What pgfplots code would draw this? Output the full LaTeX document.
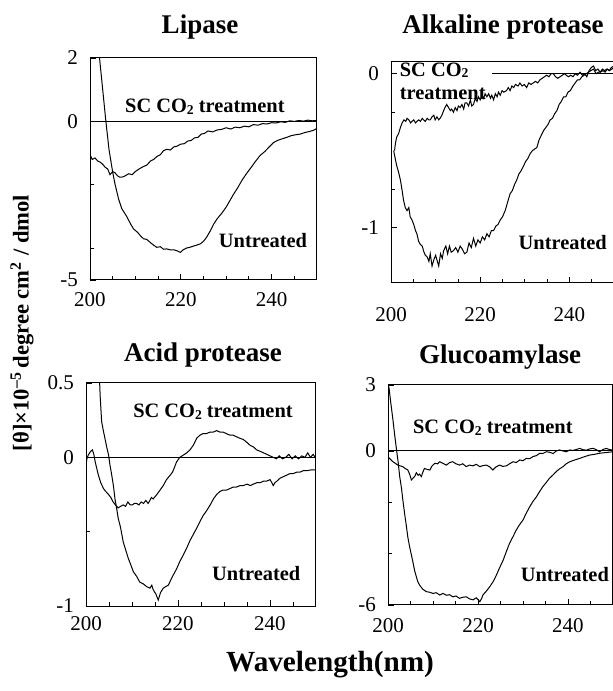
\documentclass[border=0pt]{standalone}
\usepackage{pgfplots}
\pgfplotsset{compat=1.18}
\usepackage{fontspec}
\setmainfont{Liberation Serif}
\newcommand\cotwo{CO\raisebox{-0.2ex}{\fontsize{6.8}{7}\selectfont 2}}
\tikzset{lbl/.style={font=\bfseries\fontsize{10.2}{11.5}\selectfont, inner sep=0pt}}
\pgfplotsset{
  cdpanel/.style={
    scale only axis, anchor=south west,
    xmin=200, xmax=250,
    xtick={200,220,240}, xticklabels={200,220,240},
    minor xtick={205,210,215,225,230,235,245},
    tick align=inside, tick pos=left,
    axis line style={line width=0.5pt},
    tick style={black, line width=0.4pt},
    major tick length=3pt, minor tick length=2pt,
    ticklabel style={font=\fontsize{10.5}{12}\selectfont},
    /pgf/number format/assume math mode=true,
    yticklabel style={xshift=-2.5pt},
    xticklabel style={yshift=-2.5pt},
    clip=true,
  },
  cdline/.style={black, line width=0.5pt, no markers},
}
\begin{document}
\begin{tikzpicture}
% ---------------- Lipase ----------------
\begin{axis}[cdpanel, at={(45pt,205.5pt)}, width=113.5pt, height=111pt,
  ymin=-5, ymax=2, ytick={-5,0,2}, yticklabels={-5,0,2}, minor ytick={-4,-2}]
\addplot[cdline] coordinates {(200,0) (250,0)};
\addplot[cdline] coordinates {(201.8,2.4) (202.1,2.0) (202.8,1.0) (203.5,0.0) (204.2,-0.9) (205,-1.6) (205.5,-1.97) (206.3,-2.45) (207,-2.75) (208.1,-3.0) (209,-3.25) (209.6,-3.39) (210.5,-3.5) (211.2,-3.62) (211.8,-3.7) (212.5,-3.72) (213.3,-3.82) (214,-3.9) (214.7,-3.97) (215.5,-3.95) (216.2,-4.03) (216.9,-4.02) (217.7,-4.05) (218.5,-4.05) (219.2,-4.08) (219.9,-4.13) (220.5,-4.05) (221.3,-3.99) (222,-3.97) (222.8,-3.93) (223.5,-3.9) (224.3,-3.86) (225,-3.78) (225.7,-3.65) (226.5,-3.45) (227.2,-3.25) (228,-3.07) (229,-2.9) (230,-2.7) (231,-2.45) (231.6,-2.3) (232.5,-2.1) (233.5,-1.85) (234.6,-1.62) (235.5,-1.45) (236.5,-1.25) (237.5,-1.07) (238.5,-0.95) (239.5,-0.8) (240.4,-0.67) (241.3,-0.6) (242.3,-0.55) (243.4,-0.5) (244.3,-0.45) (245.3,-0.42) (246.3,-0.4) (247.3,-0.35) (248.3,-0.32) (249.2,-0.28) (250,-0.22)};
\addplot[cdline] coordinates {(200,-1.05) (200.5,-1.2) (201.1,-1.15) (201.7,-1.25) (202.2,-1.28) (202.8,-1.35) (203.3,-1.44) (203.9,-1.5) (204.4,-1.68) (205,-1.58) (205.5,-1.62) (206.1,-1.72) (206.6,-1.76) (207.2,-1.75) (207.7,-1.72) (208.5,-1.65) (209.3,-1.68) (210,-1.58) (210.8,-1.5) (211.8,-1.42) (212.5,-1.38) (213.3,-1.25) (214,-1.2) (214.8,-1.1) (215.5,-1.05) (216.2,-0.92) (216.9,-0.88) (217.7,-0.9) (218.5,-0.8) (219.2,-0.78) (219.9,-0.72) (220.8,-0.7) (221.5,-0.62) (222.3,-0.6) (223,-0.52) (223.8,-0.5) (224.5,-0.4) (225.2,-0.38) (226,-0.3) (227,-0.33) (228,-0.27) (229,-0.25) (230,-0.2) (231,-0.24) (232,-0.18) (233,-0.2) (234,-0.15) (235,-0.17) (236,-0.1) (237,-0.12) (238,-0.07) (239,-0.08) (240,-0.04) (241,-0.05) (242,-0.01) (243,-0.03) (244,0.02) (245,0) (246,0.03) (247,0.01) (248,0.04) (249,0.02) (250,0.03)};
\node[lbl] at (axis cs:225.3,0.455) {SC \cotwo\ treatment};
\node[lbl] at (axis cs:238.1,-3.74) {Untreated};
\end{axis}
% ---------------- Alkaline protease ----------------
\begin{axis}[cdpanel, at={(195.5pt,204pt)}, width=111.5pt, height=110.5pt,
  ymin=-1.36, ymax=0.076, ytick={-1,0}, yticklabels={-1,0}, minor ytick={-0.75,-0.25},
  xticklabel style={yshift=-6pt}]
\addplot[cdline] coordinates {(222.7,0) (250,0)};
\addplot[cdline] coordinates {(200.6,-0.5) (201,-0.56) (201.3,-0.6) (201.7,-0.64) (202.1,-0.69) (202.5,-0.76) (202.8,-0.82) (203.2,-0.87) (203.6,-0.89) (204,-0.87) (204.3,-0.93) (204.7,-0.95) (205.1,-0.98) (205.5,-1.02) (205.8,-1.04) (206.2,-1.09) (206.6,-1.11) (207,-1.12) (207.4,-1.16) (207.7,-1.18) (208.1,-1.19) (208.5,-1.22) (208.8,-1.17) (209.2,-1.25) (209.6,-1.21) (210,-1.18) (210.4,-1.22) (210.7,-1.25) (211.1,-1.17) (211.5,-1.2) (211.8,-1.15) (212.3,-1.12) (212.7,-1.17) (213.1,-1.12) (213.5,-1.16) (214,-1.15) (214.5,-1.13) (215,-1.16) (215.5,-1.12) (216,-1.14) (216.5,-1.17) (217,-1.16) (217.5,-1.1) (218,-1.13) (218.5,-1.07) (219,-1.12) (219.5,-1.08) (220,-1.1) (220.5,-1.06) (221,-1.08) (221.5,-1.04) (222,-1.06) (222.5,-1.02) (223,-1.02) (223.5,-0.99) (224,-0.98) (224.5,-0.95) (225,-0.93) (225.6,-0.89) (226.2,-0.83) (226.7,-0.78) (227.2,-0.76) (227.7,-0.72) (228.2,-0.69) (228.7,-0.65) (229.2,-0.63) (229.7,-0.6) (230.2,-0.57) (230.7,-0.55) (231.2,-0.52) (231.7,-0.5) (232.2,-0.49) (232.7,-0.48) (233.2,-0.43) (233.7,-0.4) (234.2,-0.37) (234.7,-0.35) (235.2,-0.33) (235.7,-0.3) (236.2,-0.29) (236.7,-0.26) (237.2,-0.24) (237.7,-0.2) (238.2,-0.18) (238.7,-0.15) (239.2,-0.15) (239.7,-0.12) (240.2,-0.11) (240.8,-0.08) (241.3,-0.06) (241.8,-0.04) (242.3,-0.04) (242.8,-0.02) (243.3,-0.01) (243.8,0) (244.3,0.01) (244.8,0.02) (245.4,0.03) (246,0.0) (246.5,0.01) (247,0.01) (247.5,0.02) (248,0.01) (248.5,0.03) (249,0.02) (249.5,0.03) (250,0.04)};
\addplot[cdline] coordinates {(200.8,-0.5) (201,-0.45) (201.3,-0.41) (201.7,-0.39) (202.1,-0.35) (202.5,-0.32) (202.9,-0.3) (203.3,-0.31) (203.6,-0.29) (204,-0.3) (204.4,-0.32) (204.7,-0.31) (205.1,-0.3) (205.5,-0.32) (205.8,-0.31) (206.2,-0.3) (206.6,-0.31) (207,-0.29) (207.3,-0.3) (207.7,-0.31) (208.1,-0.29) (208.5,-0.3) (208.8,-0.3) (209.2,-0.28) (209.6,-0.27) (209.9,-0.3) (210.3,-0.28) (210.7,-0.3) (211,-0.29) (211.4,-0.27) (211.8,-0.24) (212.1,-0.22) (212.5,-0.2) (212.9,-0.22) (213.3,-0.24) (213.6,-0.23) (214,-0.25) (214.4,-0.22) (214.8,-0.24) (215.1,-0.21) (215.5,-0.22) (215.9,-0.2) (216.3,-0.23) (216.6,-0.19) (217,-0.19) (217.4,-0.21) (217.8,-0.17) (218.1,-0.21) (218.5,-0.2) (218.9,-0.16) (219.3,-0.18) (219.6,-0.15) (220,-0.17) (220.4,-0.14) (220.8,-0.16) (221.1,-0.13) (221.5,-0.15) (221.9,-0.13) (222.3,-0.16) (222.6,-0.14) (223,-0.17) (223.4,-0.13) (223.8,-0.15) (224.1,-0.12) (224.5,-0.14) (224.9,-0.11) (225.3,-0.12) (225.9,-0.11) (226.3,-0.09) (226.7,-0.11) (227.1,-0.08) (227.5,-0.09) (227.9,-0.07) (228.5,-0.08) (228.9,-0.06) (229.4,-0.08) (229.9,-0.07) (230.4,-0.09) (230.9,-0.06) (231.4,-0.07) (231.9,-0.06) (232.4,-0.05) (232.9,-0.06) (233.4,-0.04) (233.9,-0.03) (234.4,-0.02) (234.9,-0.01) (235.4,-0.02) (235.9,0) (236.4,0) (236.9,-0.02) (237.4,-0.03) (237.9,-0.02) (238.4,-0.01) (238.9,0.0) (239.3,-0.01) (239.8,-0.02) (240.3,-0.01) (240.8,-0.02) (241.3,0.0) (241.8,-0.01) (242.4,0.01) (242.9,-0.01) (243.4,0.0) (243.9,-0.02) (244.4,0.02) (244.9,0.04) (245.4,0.05) (245.9,0.02) (246.4,0.03) (246.9,0.01) (247.4,0.03) (247.9,0.02) (248.4,0.03) (248.9,0.02) (249.4,0.04) (250,0.05)};
\node[lbl, anchor=west, align=left] at (axis cs:201.9,-0.047) {SC \cotwo\\treatment};
\node[lbl] at (axis cs:238.5,-1.1) {Untreated};
\end{axis}
% ---------------- Acid protease ----------------
\begin{axis}[cdpanel, at={(43pt,42.5pt)}, width=115pt, height=111.5pt,
  ymin=-1, ymax=0.5, ytick={-1,0,0.5}, yticklabels={-1,0,0.5}, minor ytick={-0.5},
  xticklabel style={yshift=1pt}]
\addplot[cdline] coordinates {(200,0) (250,0)};
\addplot[cdline] coordinates {(202.9,0.55) (203.1,0.4) (203.4,0.24) (203.7,0.19) (204.1,0.13) (204.5,0.07) (204.9,0.016) (205.2,-0.05) (205.6,-0.12) (206,-0.2) (206.3,-0.28) (206.7,-0.35) (207,-0.41) (207.5,-0.47) (208.1,-0.57) (208.6,-0.62) (209.2,-0.68) (209.7,-0.72) (210.3,-0.77) (211,-0.8) (211.7,-0.84) (212.4,-0.85) (213.2,-0.87) (213.9,-0.88) (214.3,-0.86) (214.6,-0.89) (215.2,-0.92) (215.7,-0.96) (216.2,-0.91) (216.8,-0.88) (217.3,-0.87) (217.9,-0.86) (218.5,-0.82) (219,-0.79) (219.7,-0.75) (220.4,-0.7) (221.1,-0.66) (221.9,-0.61) (222.6,-0.56) (223.3,-0.52) (224,-0.48) (224.8,-0.43) (225.5,-0.39) (226.2,-0.36) (227,-0.32) (227.7,-0.28) (228.4,-0.25) (229.1,-0.23) (229.8,-0.22) (230.6,-0.22) (231.3,-0.21) (232,-0.2) (232.7,-0.2) (233.5,-0.19) (234.2,-0.19) (235,-0.18) (235.7,-0.19) (236.4,-0.18) (237.2,-0.17) (237.9,-0.17) (238.6,-0.16) (239.3,-0.16) (240,-0.15) (240.4,-0.17) (240.7,-0.19) (241.1,-0.17) (241.5,-0.16) (242.2,-0.14) (242.9,-0.13) (243.6,-0.12) (244.3,-0.11) (245,-0.11) (245.8,-0.1) (246.5,-0.1) (247.2,-0.09) (248,-0.09) (248.8,-0.085) (249.8,-0.085)};
\addplot[cdline] coordinates {(200,-0.05) (200.2,-0.01) (200.5,0.016) (200.8,0.03) (201,0.04) (201.4,0.05) (201.7,0.02) (202,-0.03) (202.3,-0.07) (202.7,-0.12) (203.2,-0.17) (203.8,-0.21) (204.3,-0.23) (204.9,-0.25) (205.4,-0.27) (205.9,-0.3) (206.4,-0.32) (207,-0.34) (207.5,-0.33) (208.1,-0.32) (208.6,-0.33) (209.1,-0.3) (209.6,-0.32) (210.1,-0.32) (210.5,-0.31) (211,-0.31) (211.5,-0.32) (212,-0.3) (212.5,-0.31) (213,-0.29) (213.5,-0.31) (213.9,-0.29) (214.2,-0.27) (214.6,-0.28) (215.4,-0.25) (216.1,-0.22) (216.8,-0.19) (217.5,-0.15) (218.3,-0.12) (218.8,-0.1) (219.2,-0.07) (219.7,-0.03) (220.4,0) (221.2,0.016) (221.9,0.03) (222.6,0.05) (223.3,0.08) (224.1,0.13) (224.8,0.15) (225.5,0.16) (226.2,0.16) (227,0.17) (227.7,0.17) (228.4,0.18) (229.1,0.17) (229.8,0.17) (230.5,0.16) (231.2,0.15) (231.9,0.15) (232.6,0.14) (233.3,0.13) (234.2,0.12) (235,0.1) (235.7,0.08) (236.4,0.07) (237.1,0.05) (237.9,0.04) (238.6,0.03) (239.3,0.02) (240,0.01) (240.7,0.0) (241.4,-0.01) (242,0.01) (242.7,-0.01) (243.4,0.0) (244.1,0.02) (244.8,-0.01) (245.5,0.01) (246.2,-0.01) (246.9,0.01) (247.6,0.0) (248.2,0.03) (248.8,0.0) (249.4,0.02) (250,-0.01)};
\node[lbl] at (axis cs:227.6,0.305) {SC \cotwo\ treatment};
\node[lbl] at (axis cs:237,-0.78) {Untreated};
\end{axis}
% ---------------- Glucoamylase ----------------
\begin{axis}[cdpanel, at={(194pt,43pt)}, width=112.5pt, height=110pt,
  ymin=-6, ymax=2.57, ytick={-6,0,2.57}, yticklabels={-6,0,3}, minor ytick={-4,-2},
  xticklabel style={yshift=-0.5pt}]
\addplot[cdline] coordinates {(200,0) (250,0)};
\addplot[cdline] coordinates {(200.2,2.5) (200.6,1.9) (201.1,1.21) (201.5,0.6) (201.9,0.04) (202.3,-0.5) (202.6,-1.0) (203,-1.45) (203.3,-1.91) (203.7,-2.45) (204.1,-2.95) (204.4,-3.35) (204.8,-3.73) (205.2,-4.05) (205.6,-4.38) (205.9,-4.65) (206.3,-4.9) (206.6,-5.08) (207,-5.22) (207.7,-5.38) (208.5,-5.48) (209.2,-5.5) (210,-5.55) (210.7,-5.52) (211.5,-5.61) (212.2,-5.55) (213,-5.62) (213.7,-5.6) (214.4,-5.68) (215.1,-5.65) (215.9,-5.74) (216.6,-5.7) (217.4,-5.68) (218.1,-5.76) (218.9,-5.8) (219.6,-5.72) (220.4,-5.87) (220.8,-5.75) (221.1,-5.61) (221.9,-5.45) (222.6,-5.29) (223.4,-5.08) (224.1,-4.83) (224.8,-4.55) (225.6,-4.25) (226.3,-3.92) (227,-3.6) (227.8,-3.33) (228.5,-3.08) (229.2,-2.88) (230,-2.69) (230.7,-2.43) (231.5,-2.17) (232.2,-1.97) (233,-1.78) (233.7,-1.58) (234.4,-1.39) (235.2,-1.22) (235.9,-1.06) (236.7,-0.93) (237.4,-0.8) (238.1,-0.7) (238.9,-0.61) (239.6,-0.5) (240.4,-0.42) (241.5,-0.35) (242.6,-0.29) (243.7,-0.22) (244.8,-0.16) (245.9,-0.13) (247,-0.09) (248.5,-0.06) (250,-0.03)};
\addplot[cdline] coordinates {(200,-0.22) (200.5,-0.32) (201.1,-0.42) (201.6,-0.48) (202.2,-0.55) (202.7,-0.58) (203.3,-0.61) (203.8,-0.68) (204.4,-0.74) (204.8,-0.9) (205.2,-1.13) (205.6,-1.05) (205.9,-1.0) (206.3,-0.85) (206.7,-0.95) (207,-0.9) (207.4,-1.0) (207.8,-0.8) (208.1,-0.68) (208.7,-0.72) (209.3,-0.74) (209.8,-0.58) (210.4,-0.48) (211,-0.5) (211.5,-0.42) (212.2,-0.48) (213,-0.55) (213.7,-0.45) (214.4,-0.42) (215.1,-0.5) (215.9,-0.55) (216.6,-0.5) (217.4,-0.61) (218.1,-0.55) (218.9,-0.58) (219.6,-0.52) (220.4,-0.61) (221.1,-0.57) (221.9,-0.55) (222.6,-0.62) (223.3,-0.74) (224,-0.62) (224.8,-0.55) (225.5,-0.6) (226.3,-0.58) (227,-0.5) (227.8,-0.42) (228.5,-0.45) (229.3,-0.35) (230,-0.38) (230.7,-0.29) (231.5,-0.3) (232.2,-0.22) (233,-0.18) (233.7,-0.09) (234.4,-0.1) (235.2,-0.03) (235.9,-0.05) (236.7,-0.1) (237.4,0.0) (238.1,0.04) (238.9,0.0) (239.6,-0.03) (240.4,0.04) (241.1,0.02) (241.9,0.06) (242.6,0.1) (243.3,0.05) (244.1,0.03) (244.8,0.08) (245.6,0.1) (246.3,0.05) (247,-0.03) (247.8,0.06) (248.5,0.1) (249.3,0.05) (250,0.04)};
\node[lbl] at (axis cs:223.3,0.895) {SC \cotwo\ treatment};
\node[lbl] at (axis cs:239.3,-4.83) {Untreated};
\end{axis}
% ---------------- titles and shared labels ----------------
\node[font=\bfseries\fontsize{13.5}{16}\selectfont] at (100pt,332pt) {Lipase};
\node[font=\bfseries\fontsize{13.5}{16}\selectfont] at (251.5pt,332pt) {Alkaline protease};
\node[font=\bfseries\fontsize{13.5}{16}\selectfont] at (101.5pt,168pt) {Acid protease};
\node[font=\bfseries\fontsize{13.5}{16}\selectfont] at (250pt,167pt) {Glucoamylase};
\node[font=\bfseries\fontsize{14.6}{17}\selectfont] at (165pt,13pt) {Wavelength(nm)};
\node[font=\bfseries\fontsize{11.3}{13}\selectfont, rotate=90] at (11pt,184pt) {[θ]×10\textsuperscript{–5}\,degree cm\textsuperscript{2} / dmol};
\pgfresetboundingbox
\useasboundingbox (0,0) rectangle (306.5pt,345.5pt);
\end{tikzpicture}
\end{document}
